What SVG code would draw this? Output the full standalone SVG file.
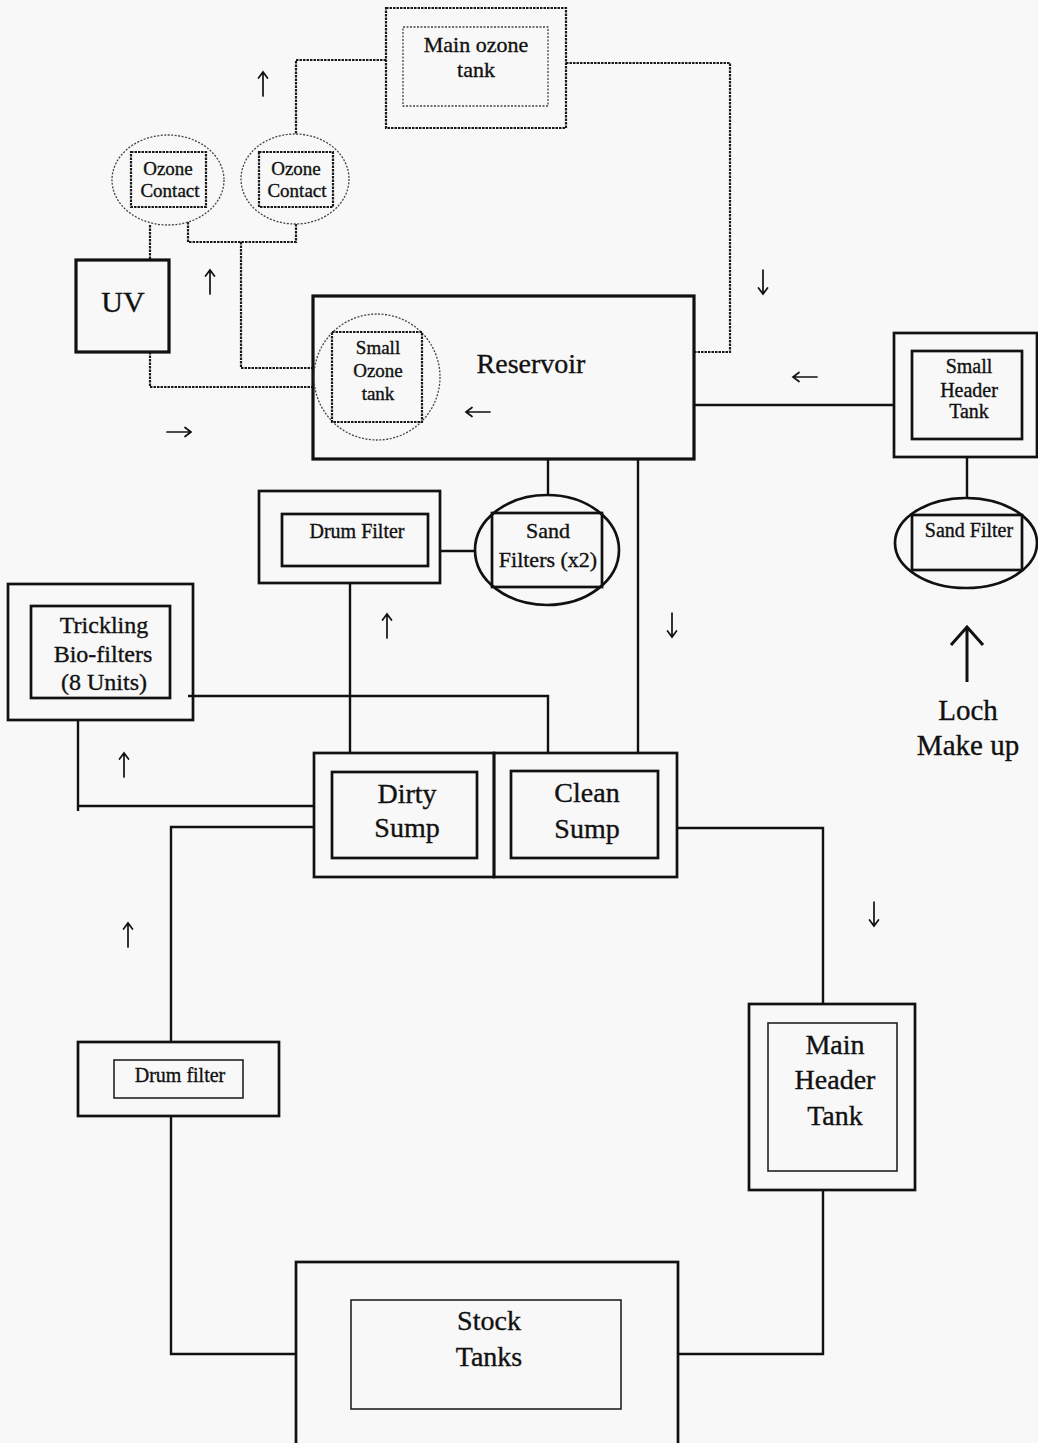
<svg xmlns="http://www.w3.org/2000/svg" xmlns:xlink="http://www.w3.org/1999/xlink" width="1038" height="1443" viewBox="0 0 1038 1443">
  <style>
    .box{fill:none;stroke:#111;stroke-width:2.7}
    .heavy{stroke-width:3.2}
    .thin{fill:none;stroke:#222;stroke-width:1.6}
    .dot{fill:none;stroke:#1a1a1a;stroke-width:2.2;stroke-dasharray:2.5 1}
    .dotthin{fill:none;stroke:#444;stroke-width:1.3;stroke-dasharray:2 1.5}
    .pipe{fill:none;stroke:#111;stroke-width:2.4}
    .dpipe{fill:none;stroke:#1a1a1a;stroke-width:2.2;stroke-dasharray:2.5 1}
    .arr{fill:none;stroke:#111;stroke-width:1.7;stroke-linecap:round}
    text{font-family:"Liberation Serif","Times New Roman",serif;fill:#111;stroke:#111;stroke-width:0.35;text-anchor:middle}
    .s19{font-size:19px}
    .s20{font-size:20px}
    .s22{font-size:22px}
    .s24{font-size:24px}
    .s28{font-size:28px}
  </style>
  <defs>
    <!-- flow direction mark: short shaft with an open head, pointing up -->
    <path id="flowUp" class="arr" d="M0,12 V-12 M-4.5,-6 L0,-12 L4.5,-6"/>
  </defs>

  <rect x="0" y="0" width="1038" height="1443" fill="#f8f8f8"/>

  <!-- pipework -->
  <g id="connectors">
    <!-- ozone loop (dotted) -->
    <path class="dpipe" d="M386,60 H296 V134"/>
    <path class="dpipe" d="M566,63 H730 V352 H694"/>
    <path class="dpipe" d="M150,225 V260"/>
    <path class="dpipe" d="M188,222 V242 H296 V224"/>
    <path class="dpipe" d="M241,242 V368 H314"/>
    <path class="dpipe" d="M150,352 V387 H314"/>
    <!-- water lines (solid) -->
    <path class="pipe" d="M894,405 H694"/>
    <path class="pipe" d="M967,457 V498"/>
    <path class="pipe" d="M548,459 V495"/>
    <path class="pipe" d="M638,459 V753"/>
    <path class="pipe" d="M440,551 H475"/>
    <path class="pipe" d="M350,583 V753"/>
    <path class="pipe" d="M188,696 H548 V753"/>
    <path class="pipe" d="M78,720 V811 M78,806 H314"/>
    <path class="pipe" d="M314,827 H171 V1042"/>
    <path class="pipe" d="M171,1116 V1354 H296"/>
    <path class="pipe" d="M677,828 H823 V1004"/>
    <path class="pipe" d="M823,1190 V1354 H678"/>
    <!-- flow marks -->
    <use xlink:href="#flowUp" href="#flowUp" transform="translate(263,84)"/>
    <use xlink:href="#flowUp" href="#flowUp" transform="translate(210,282)"/>
    <use xlink:href="#flowUp" href="#flowUp" transform="translate(179,432) rotate(90)"/>
    <use xlink:href="#flowUp" href="#flowUp" transform="translate(478,412) rotate(-90)"/>
    <use xlink:href="#flowUp" href="#flowUp" transform="translate(763,282) rotate(180)"/>
    <use xlink:href="#flowUp" href="#flowUp" transform="translate(805,377) rotate(-90)"/>
    <use xlink:href="#flowUp" href="#flowUp" transform="translate(387,626)"/>
    <use xlink:href="#flowUp" href="#flowUp" transform="translate(672,625) rotate(180)"/>
    <use xlink:href="#flowUp" href="#flowUp" transform="translate(124,765)"/>
    <use xlink:href="#flowUp" href="#flowUp" transform="translate(128,935)"/>
    <use xlink:href="#flowUp" href="#flowUp" transform="translate(874,914) rotate(180)"/>
    <!-- loch make-up inlet -->
    <path fill="none" stroke="#111" stroke-width="3" d="M967,682 V629 M951,645 L967,627 L983,645"/>
  </g>

  <g id="main-ozone-tank">
    <rect class="dot" x="386" y="8" width="180" height="120"/>
    <rect class="dotthin" x="403" y="27" width="145" height="79"/>
    <text class="s22" x="476" y="52">Main ozone</text>
    <text class="s22" x="476" y="77">tank</text>
  </g>

  <g id="ozone-contact-1">
    <ellipse class="dotthin" cx="168" cy="180" rx="56" ry="45"/>
    <rect class="dot" x="131" y="152" width="75" height="55"/>
    <text class="s19" x="168" y="175">Ozone</text>
    <text class="s19" x="170" y="197">Contact</text>
  </g>

  <g id="ozone-contact-2">
    <ellipse class="dotthin" cx="295" cy="179" rx="54" ry="45"/>
    <rect class="dot" x="259" y="152" width="74" height="55"/>
    <text class="s19" x="296" y="175">Ozone</text>
    <text class="s19" x="297" y="197">Contact</text>
  </g>

  <g id="uv">
    <rect class="box heavy" x="76" y="260" width="93" height="92"/>
    <text x="123" y="312" style="font-size:30px">UV</text>
  </g>

  <g id="reservoir">
    <rect class="box heavy" x="313" y="296" width="381" height="163"/>
    <text class="s28" x="531" y="373">Reservoir</text>
  </g>

  <g id="small-ozone-tank">
    <circle class="dotthin" cx="377" cy="377" r="63"/>
    <rect class="dot" x="332" y="332" width="90" height="90"/>
    <text class="s19" x="378" y="354">Small</text>
    <text class="s19" x="378" y="377">Ozone</text>
    <text class="s19" x="378" y="400">tank</text>
  </g>

  <g id="small-header-tank">
    <rect class="box" x="894" y="333" width="143" height="124"/>
    <rect class="box" x="912" y="351" width="110" height="88"/>
    <text class="s20" x="969" y="373">Small</text>
    <text class="s20" x="969" y="397">Header</text>
    <text class="s20" x="969" y="418">Tank</text>
  </g>

  <g id="sand-filter">
    <ellipse class="box" cx="966" cy="543" rx="71" ry="45"/>
    <rect class="box" x="912" y="515" width="110" height="55"/>
    <text class="s20" x="969" y="537">Sand Filter</text>
  </g>

  <g id="loch-make-up">
    <text x="968" y="720" style="font-size:29px">Loch</text>
    <text x="968" y="755" style="font-size:29px">Make up</text>
  </g>

  <g id="drum-filter">
    <rect class="box" x="259" y="491" width="181" height="92"/>
    <rect class="box" x="282" y="514" width="146" height="52"/>
    <text class="s20" x="357" y="538">Drum Filter</text>
  </g>

  <g id="sand-filters">
    <ellipse class="box" cx="547" cy="550" rx="72" ry="55"/>
    <rect class="box" x="492" y="513" width="110" height="74"/>
    <text class="s22" x="548" y="538">Sand</text>
    <text class="s22" x="548" y="567">Filters (x2)</text>
  </g>

  <g id="trickling-biofilters">
    <rect class="box" x="8" y="584" width="185" height="136"/>
    <rect class="box" x="31" y="606" width="139" height="92"/>
    <text class="s24" x="104" y="633">Trickling</text>
    <text class="s24" x="103" y="662">Bio-filters</text>
    <text class="s24" x="104" y="690">(8 Units)</text>
  </g>

  <g id="dirty-sump">
    <rect class="box" x="314" y="753" width="180" height="124"/>
    <rect class="box" x="332" y="772" width="145" height="86"/>
    <text class="s28" x="407" y="803">Dirty</text>
    <text class="s28" x="407" y="837">Sump</text>
  </g>

  <g id="clean-sump">
    <rect class="box" x="494" y="753" width="183" height="124"/>
    <rect class="box" x="511" y="771" width="147" height="87"/>
    <text class="s28" x="587" y="802">Clean</text>
    <text class="s28" x="587" y="838">Sump</text>
  </g>

  <g id="drum-filter-2">
    <rect class="box" x="78" y="1042" width="201" height="74"/>
    <rect class="thin" x="114" y="1060" width="129" height="38"/>
    <text class="s20" x="180" y="1082">Drum filter</text>
  </g>

  <g id="main-header-tank">
    <rect class="box" x="749" y="1004" width="166" height="186"/>
    <rect class="thin" x="768" y="1023" width="129" height="148"/>
    <text class="s28" x="835" y="1054">Main</text>
    <text class="s28" x="835" y="1089">Header</text>
    <text class="s28" x="835" y="1125">Tank</text>
  </g>

  <g id="stock-tanks">
    <rect class="box" x="296" y="1262" width="382" height="200"/>
    <rect class="thin" x="351" y="1300" width="270" height="109"/>
    <text class="s28" x="489" y="1330">Stock</text>
    <text class="s28" x="489" y="1366">Tanks</text>
  </g>
</svg>
